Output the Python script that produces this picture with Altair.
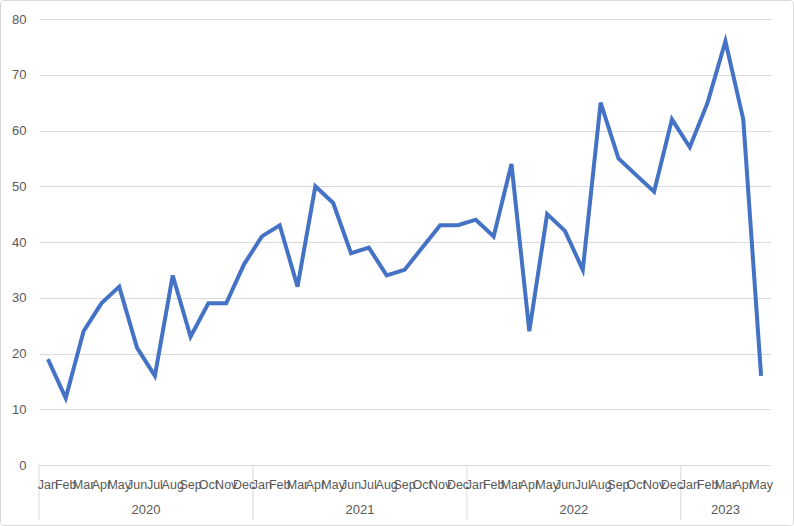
import altair as alt
import pandas as pd

month_names = ["Jan", "Feb", "Mar", "Apr", "May", "Jun", "Jul", "Aug", "Sep", "Oct", "Nov", "Dec"]
years = ["2020", "2021", "2022", "2023"]
months_per_year = [12, 12, 12, 5]
values = [
    19, 12, 24, 29, 32, 21, 16, 34, 23, 29, 29, 36,   # 2020
    41, 43, 32, 50, 47, 38, 39, 34, 35, 39, 43, 43,   # 2021
    44, 41, 54, 24, 45, 42, 35, 65, 55, 52, 49, 62,   # 2022
    57, 65, 76, 62, 16,                               # 2023
]

month_labels = []
year_of = []
for y, n in zip(years, months_per_year):
    month_labels += month_names[:n]
    year_of += [y] * n

df = pd.DataFrame({"i": list(range(len(values))), "month": month_labels,
                   "year": year_of, "value": values})

starts = []
s = 0
for n in months_per_year:
    starts.append(s)
    s += n
year_df = pd.DataFrame({"year": years,
                        "center": [st + (n - 1) / 2 for st, n in zip(starts, months_per_year)]})
div_df = pd.DataFrame({"pos": [st - 0.5 for st in starts]})

W, H = 731, 446
N = len(values)
xscale = alt.Scale(domain=[-0.5, N - 0.5], nice=False, zero=False)
FONT = "Liberation Sans"
GRAY = "#595959"

base = alt.Chart(df)

line = base.mark_line(color="#4472C4", strokeWidth=4, strokeJoin="miter").encode(
    x=alt.X("i:Q", scale=xscale, axis=None),
    y=alt.Y("value:Q", scale=alt.Scale(domain=[0, 80], nice=False),
            axis=alt.Axis(values=list(range(0, 81, 10)), title=None, domain=False,
                          ticks=False, grid=True, gridColor="#d9d9d9", gridWidth=1,
                          labelColor=GRAY, labelFontSize=13, labelFont=FONT,
                          labelPadding=13)),
)

month_text = base.mark_text(fontSize=12.5, font=FONT, color=GRAY, baseline="middle").encode(
    x=alt.X("i:Q", scale=xscale, axis=None),
    y=alt.value(H + 20),
    text="month:N",
)

year_text = alt.Chart(year_df).mark_text(fontSize=13, font=FONT, color=GRAY,
                                         baseline="middle").encode(
    x=alt.X("center:Q", scale=xscale, axis=None),
    y=alt.value(H + 45),
    text="year:N",
)

dividers = alt.Chart(div_df).mark_rule(color="#d9d9d9", strokeWidth=1).encode(
    x=alt.X("pos:Q", scale=xscale, axis=None),
    y=alt.value(H),
    y2=alt.value(H + 55),
)

border = alt.Chart(pd.DataFrame({"k": [0]})).mark_rect(
    fill="white", fillOpacity=0, stroke="#d9d9d9", strokeWidth=1, cornerRadius=3
).encode(
    x=alt.value(-38.5), x2=alt.value(W + 23.5),
    y=alt.value(-18.5), y2=alt.value(H + 60.5),
)

chart = alt.layer(border, dividers, line, month_text, year_text).properties(
    width=W, height=H,
    padding={"left": 39, "top": 19, "right": 24, "bottom": 61},
    autosize=alt.AutoSizeParams(type="none"),
    background="white",
).configure_view(stroke=None)

chart.save("out.html", embed_options={"renderer": "svg", "actions": False})
